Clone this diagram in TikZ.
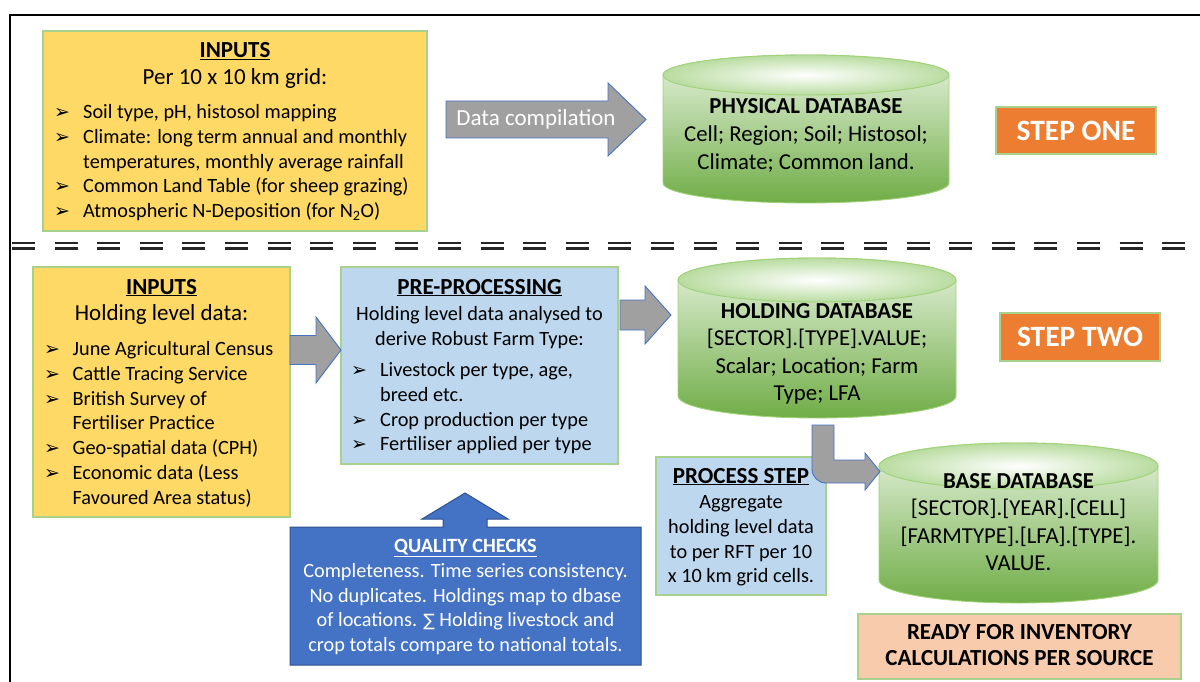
\documentclass[tikz,border=0pt]{standalone}
\usepackage{fontspec}
\setmainfont{Carlito}
\newfontfamily\dejavu{DejaVu Sans}
\usetikzlibrary{calc}

\definecolor{yel}{RGB}{255,217,102}
\definecolor{bordg}{RGB}{169,209,142}
\definecolor{lblue}{RGB}{189,215,238}
\definecolor{orng}{RGB}{237,125,49}
\definecolor{peach}{RGB}{248,203,173}
\definecolor{arrgray}{RGB}{160,160,160}
\definecolor{arrblue}{RGB}{68,114,196}
\definecolor{qcblue}{RGB}{68,114,196}
\definecolor{qcborder}{RGB}{47,82,143}
\definecolor{cyltop}{RGB}{230,242,222}
\definecolor{cylbot}{RGB}{112,173,71}
\definecolor{cylrim}{RGB}{160,210,120}
\definecolor{cylring}{RGB}{185,220,160}

\newcommand{\fbody}{\fontsize{20.3}{24.8}\selectfont}
\newcommand{\fhead}{\fontsize{23}{27}\selectfont}
\newcommand{\fdb}{\fontsize{22.8}{27.6}\selectfont}
\newcommand{\fstep}{\fontsize{29.5}{34}\selectfont}
\newcommand{\bul}{{\dejavu\fontsize{19}{19}\selectfont ➢}}

\newcommand{\dbcyl}[5]{%
  \pgfmathsetmacro{\cx}{(#1+#2)/2}%
  \pgfmathsetmacro{\rx}{(#2-#1)/2}%
  \pgfmathsetmacro{\yt}{#3+#5}%
  \pgfmathsetmacro{\yb}{#4-#5}%
  \path[top color=cyltop, bottom color=cylbot, draw=cylrim, line width=0.9pt]
    (#1,\yt) -- (#1,\yb) arc[start angle=180, end angle=360, x radius=\rx pt, y radius=#5 pt]
    -- (#2,\yt) arc[start angle=0, end angle=180, x radius=\rx pt, y radius=#5 pt] -- cycle;
  \path[inner color=white, outer color=cylring, draw=cylrim, line width=0.9pt]
    (\cx,\yt) ellipse[x radius=\rx pt, y radius=#5 pt];
}

\begin{document}
\begin{tikzpicture}[x=1pt,y=-1pt,
  frame/.style={line width=1.5pt, black},
  box/.style={draw=bordg, line width=1.2pt, inner sep=0pt},
  lbl/.style={inner sep=0pt, anchor=base},
  lst/.style={inner sep=0pt, anchor=base west},
  blockarrow/.style={fill=arrgray, draw=arrblue, line width=0.9pt, line join=miter},
  sepline/.style={line width=2.2pt, black!85, dash pattern=on 23pt off 19.6pt},
  stepbox/.style={box, fill=orng, text=white, font=\fstep\bfseries}]
\useasboundingbox (0,0) rectangle (1200,682);

% frame
\draw[frame] (10,682) -- (10,15) -- (1200,15);

% ---------- STEP ONE ----------
\node[box, fill=yel, minimum width=384, minimum height=200] (in1) at (235,131) {};
\node[lbl] (in1t) at (235,58) {\fhead\bfseries\underline{INPUTS}};
\node[lbl] (in1s) at (235,85) {\fhead Per 10 x 10 km grid:};
\node[lst] (in1l) at (54,118.5) {\fbody\begin{tabular}[t]{@{}p{29pt}@{}l@{}}
\bul & Soil type, pH, histosol mapping\\
\bul & Climate: long term annual and monthly\\
 & temperatures, monthly average rainfall\\
\bul & Common Land Table (for sheep grazing)\\
\bul & Atmospheric N-Deposition (for N\textsubscript{2}O)
\end{tabular}};

\draw[blockarrow] (446,101) -- (608,101) -- (608,83) -- (646,119.5) -- (608,156) -- (608,138) -- (446,138) -- cycle;
\node[lbl, text=white] (dc) at (536,125.5) {\fhead Data compilation};

\dbcyl{663}{949}{55}{203}{20}
\node[lbl] (phys) at (806,114) {\fdb\begin{tabular}[t]{@{}c@{}}
\textbf{PHYSICAL DATABASE}\\
Cell; Region; Soil; Histosol;\\
Climate; Common land.
\end{tabular}};

\node[stepbox, minimum width=160, minimum height=47] (s1) at (1076,130.5) {STEP ONE};

% separator
\draw[sepline] (12,243) -- (1192,243);
\draw[sepline] (12,248.5) -- (1192,248.5);

% ---------- STEP TWO ----------
\node[box, fill=yel, minimum width=257, minimum height=250] (in2) at (161.5,392) {};
\node[lbl] (in2t) at (161.5,294) {\fhead\bfseries\underline{INPUTS}};
\node[lbl] (in2s) at (161.5,320) {\fhead Holding level data:};
\node[lst] (in2l) at (44,355.5) {\fbody\begin{tabular}[t]{@{}p{28.5pt}@{}l@{}}
\bul & June Agricultural Census\\
\bul & Cattle Tracing Service\\
\bul & British Survey of\\
 & Fertiliser Practice\\
\bul & Geo-spatial data (CPH)\\
\bul & Economic data (Less\\
 & Favoured Area status)
\end{tabular}};

\node[box, fill=lblue, minimum width=277, minimum height=197] (pre) at (479.5,365.5) {};
\node[lbl] (pret) at (479.5,294) {\fhead\bfseries\underline{PRE-PROCESSING}};
\node[lbl] (pres) at (479.5,320.5) {\fbody\begin{tabular}[t]{@{}c@{}}
Holding level data analysed to\\
derive Robust Farm Type:
\end{tabular}};
\node[lst] (prel) at (351,376.5) {\fbody\begin{tabular}[t]{@{}p{29pt}@{}l@{}}
\bul & Livestock per type, age,\\
 & breed etc.\\
\bul & Crop production per type\\
\bul & Fertiliser applied per type
\end{tabular}};

\draw[blockarrow] (290,335.5) -- (316,335.5) -- (316,317) -- (341,350) -- (316,383) -- (316,364.5) -- (290,364.5) -- cycle;
\draw[blockarrow] (620,300) -- (645,300) -- (645,286) -- (671,315) -- (645,344) -- (645,330) -- (620,330) -- cycle;

\dbcyl{678}{956}{258}{418}{22}
\node[lbl] (hold) at (817,318) {\fdb\begin{tabular}[t]{@{}c@{}}
\textbf{HOLDING DATABASE}\\
{[SECTOR].[TYPE].VALUE;}\\
Scalar; Location; Farm\\
Type; LFA
\end{tabular}};

\node[stepbox, minimum width=160, minimum height=48] (s2) at (1080,337) {STEP TWO};

\node[box, fill=lblue, minimum width=170, minimum height=138] (proc) at (741,526) {};
\node[lbl] (proct) at (741,483) {\fhead\bfseries\underline{PROCESS STEP}};
\node[lbl] (procl) at (741,508.5) {\fbody\begin{tabular}[t]{@{}c@{}}
Aggregate\\
holding level data\\
to per RFT per 10\\
x 10 km grid cells.
\end{tabular}};

\dbcyl{879}{1158}{443}{603}{23}
\node[lbl] (base) at (1018.5,488) {\fdb\begin{tabular}[t]{@{}c@{}}
\textbf{BASE DATABASE}\\
{[SECTOR].[YEAR].[CELL]}\\
{[FARMTYPE].[LFA].[TYPE].}\\
VALUE.
\end{tabular}};

\draw[blockarrow] (834,425) -- (834,460) -- (865,460) -- (865,453) -- (880,471.5) -- (865,490) -- (865,483) -- (826,483) arc[start angle=270, end angle=180, radius=14pt] -- (812,425) -- cycle;

\node[box, fill=peach, minimum width=323, minimum height=65] (ready) at (1019.5,646.5) {};
\node[lbl] (readyt) at (1019.5,639.5) {\fhead\bfseries\begin{tabular}[t]{@{}c@{}}
READY FOR INVENTORY\\[-1pt]
CALCULATIONS PER SOURCE
\end{tabular}};

% quality checks callout
\draw[fill=qcblue, draw=qcborder, line width=1pt] (290,527) -- (443,527) -- (443,519) -- (422,519) -- (465,493) -- (508,519) -- (487,519) -- (487,527) -- (641,527) -- (641,665) -- (290,665) -- cycle;
\node[lbl, text=white] (qc) at (465.5,552.5) {\fbody\begin{tabular}[t]{@{}c@{}}
\textbf{\underline{QUALITY CHECKS}}\\
Completeness. Time series consistency.\\
No duplicates. Holdings map to dbase\\
of locations. {\dejavu\fontsize{17}{17}\selectfont ∑} Holding livestock and\\
crop totals compare to national totals.
\end{tabular}};

\end{tikzpicture}
\end{document}
